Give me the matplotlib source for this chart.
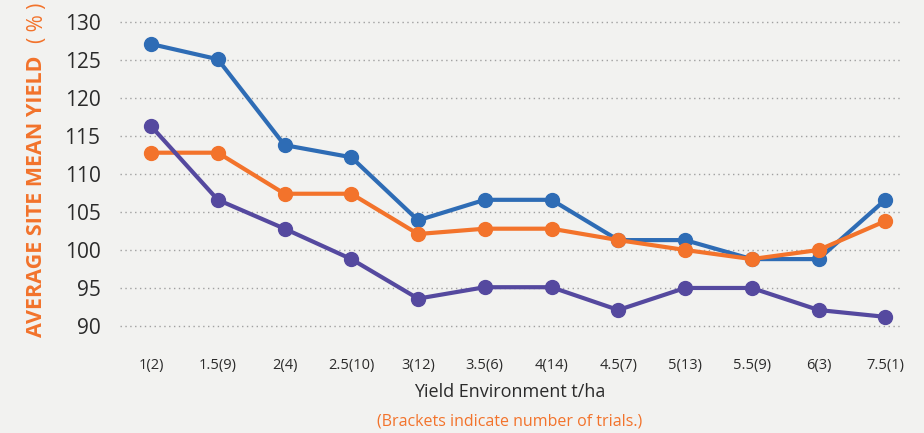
import matplotlib.pyplot as plt
import numpy as np

categories = ["1(2)", "1.5(9)", "2(4)", "2.5(10)", "3(12)", "3.5(6)",
              "4(14)", "4.5(7)", "5(13)", "5.5(9)", "6(3)", "7.5(1)"]
blue_vals = [127.1, 125.1, 113.8, 112.2, 103.9, 106.6,
             106.6, 101.3, 101.3, 98.8, 98.8, 106.6]
orange_vals = [112.8, 112.8, 107.4, 107.4, 102.1, 102.8,
               102.8, 101.3, 100.0, 98.8, 100.0, 103.8]
purple_vals = [116.3, 106.6, 102.8, 98.8, 93.6, 95.1,
               95.1, 92.1, 95.0, 95.0, 92.1, 91.2]
y_ticks = [90, 95, 100, 105, 110, 115, 120, 125, 130]

bg = '#f2f2f0'
orange = '#f3732b'
blue = '#2e6cb5'
purple = '#55499f'
text_dark = '#2b2b2b'

plt.rcParams['font.family'] = ['Open Sans', 'DejaVu Sans']

fig = plt.figure(figsize=(9.24, 4.33), dpi=100)
fig.patch.set_facecolor(bg)
ax = fig.add_axes([120 / 924, 1 - 330 / 433, 780 / 924, 315 / 433])
ax.set_facecolor(bg)

x = np.arange(len(categories))
for vals, col in [(blue_vals, blue), (orange_vals, orange), (purple_vals, purple)]:
    ax.plot(x, vals, color=col, lw=3, marker='o', markersize=10,
            solid_capstyle='round', zorder=3)

ax.set_xlim(-0.465, 11.22)
ax.set_ylim(89.47, 130.92)
ax.set_yticks(y_ticks)
ax.set_xticks(x)
ax.set_xticklabels(categories, fontsize=10.5, color=text_dark)
ax.tick_params(axis='y', labelsize=15, colors=text_dark, length=0, pad=14)
ax.tick_params(axis='x', length=0, pad=20)
ax.yaxis.grid(True, linestyle=(0, (1, 2.5)), color='#a0a0a0', lw=1)
ax.set_axisbelow(True)
for s in ax.spines.values():
    s.set_visible(False)

fig.text(510 / 924, 1 - 392 / 433, "Yield Environment t/ha", fontsize=13,
         color=text_dark, ha='center', va='center')
fig.text(510 / 924, 1 - 421 / 433, "(Brackets indicate number of trials.)",
         fontsize=11.5, color=orange, ha='center', va='center')
fig.text(37 / 924, 1 - 196 / 433, "AVERAGE SITE MEAN YIELD", fontsize=15.5,
         fontweight='bold', color=orange, rotation=90, ha='center', va='center')
fig.text(37 / 924, 1 - 23 / 433, "( % )", fontsize=15,
         color=orange, rotation=90, ha='center', va='center')

fig.savefig('out.png', dpi=100, facecolor=bg)
